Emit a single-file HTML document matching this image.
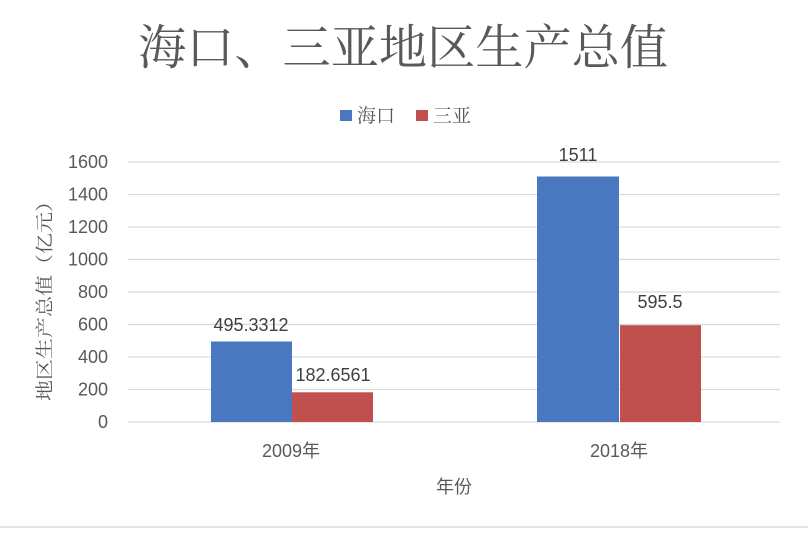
<!DOCTYPE html>
<html><head><meta charset="utf-8"><style>
body{margin:0;background:#fff;}
svg text{font-family:"Liberation Sans","Noto Sans CJK SC",sans-serif;fill:#595959;}
.s{font-family:"Liberation Serif","Noto Serif CJK SC",serif !important;}
</style></head><body>
<svg width="808" height="530" xmlns="http://www.w3.org/2000/svg">
<rect width="808" height="530" fill="#fff"/>
<text class="s" x="403" y="64" font-size="48" text-anchor="middle" textLength="530" lengthAdjust="spacingAndGlyphs">海口、三亚地区生产总值</text>
<rect x="340" y="110" width="12" height="11" fill="#4a78c0"/>
<text class="s" x="357" y="122" font-size="19">海口</text>
<rect x="416" y="110" width="12" height="11" fill="#c0504d"/>
<text class="s" x="433" y="122" font-size="19">三亚</text>
<g stroke="#d9d9d9" stroke-width="1.3">
<line x1="128" x2="780" y1="162" y2="162"/>
<line x1="128" x2="780" y1="194.5" y2="194.5"/>
<line x1="128" x2="780" y1="227" y2="227"/>
<line x1="128" x2="780" y1="259.5" y2="259.5"/>
<line x1="128" x2="780" y1="292" y2="292"/>
<line x1="128" x2="780" y1="324.5" y2="324.5"/>
<line x1="128" x2="780" y1="357" y2="357"/>
<line x1="128" x2="780" y1="389.5" y2="389.5"/>
<line x1="128" x2="780" y1="422" y2="422"/>
</g>
<g font-size="18" text-anchor="end">
<text x="108" y="168">1600</text>
<text x="108" y="200.5">1400</text>
<text x="108" y="233">1200</text>
<text x="108" y="265.5">1000</text>
<text x="108" y="298">800</text>
<text x="108" y="330.5">600</text>
<text x="108" y="363">400</text>
<text x="108" y="395.5">200</text>
<text x="108" y="428">0</text>
</g>
<rect x="211" y="341.5" width="81" height="80.5" fill="#4a78c0"/>
<rect x="292" y="392.3" width="81" height="29.7" fill="#c0504d"/>
<rect x="537" y="176.5" width="82" height="245.5" fill="#4a78c0"/>
<rect x="620" y="325.2" width="81" height="96.8" fill="#c0504d"/>
<g font-size="18" text-anchor="middle">
<text x="251" y="331" style="fill:#404040">495.3312</text>
<text x="333" y="381" style="fill:#404040">182.6561</text>
<text x="578" y="161" style="fill:#404040">1511</text>
<text x="660" y="308" style="fill:#404040">595.5</text>
</g>
<text x="291" y="457" font-size="18" text-anchor="middle">2009年</text>
<text x="619" y="457" font-size="18" text-anchor="middle">2018年</text>
<text x="454" y="493" font-size="18" text-anchor="middle">年份</text>
<text class="s" transform="translate(51,296) rotate(-90)" font-size="18" text-anchor="middle" textLength="210" lengthAdjust="spacingAndGlyphs">地区生产总值（亿元）</text>
<line x1="0" x2="808" y1="527" y2="527" stroke="#e6e6e6" stroke-width="2"/>
</svg>
</body></html>
